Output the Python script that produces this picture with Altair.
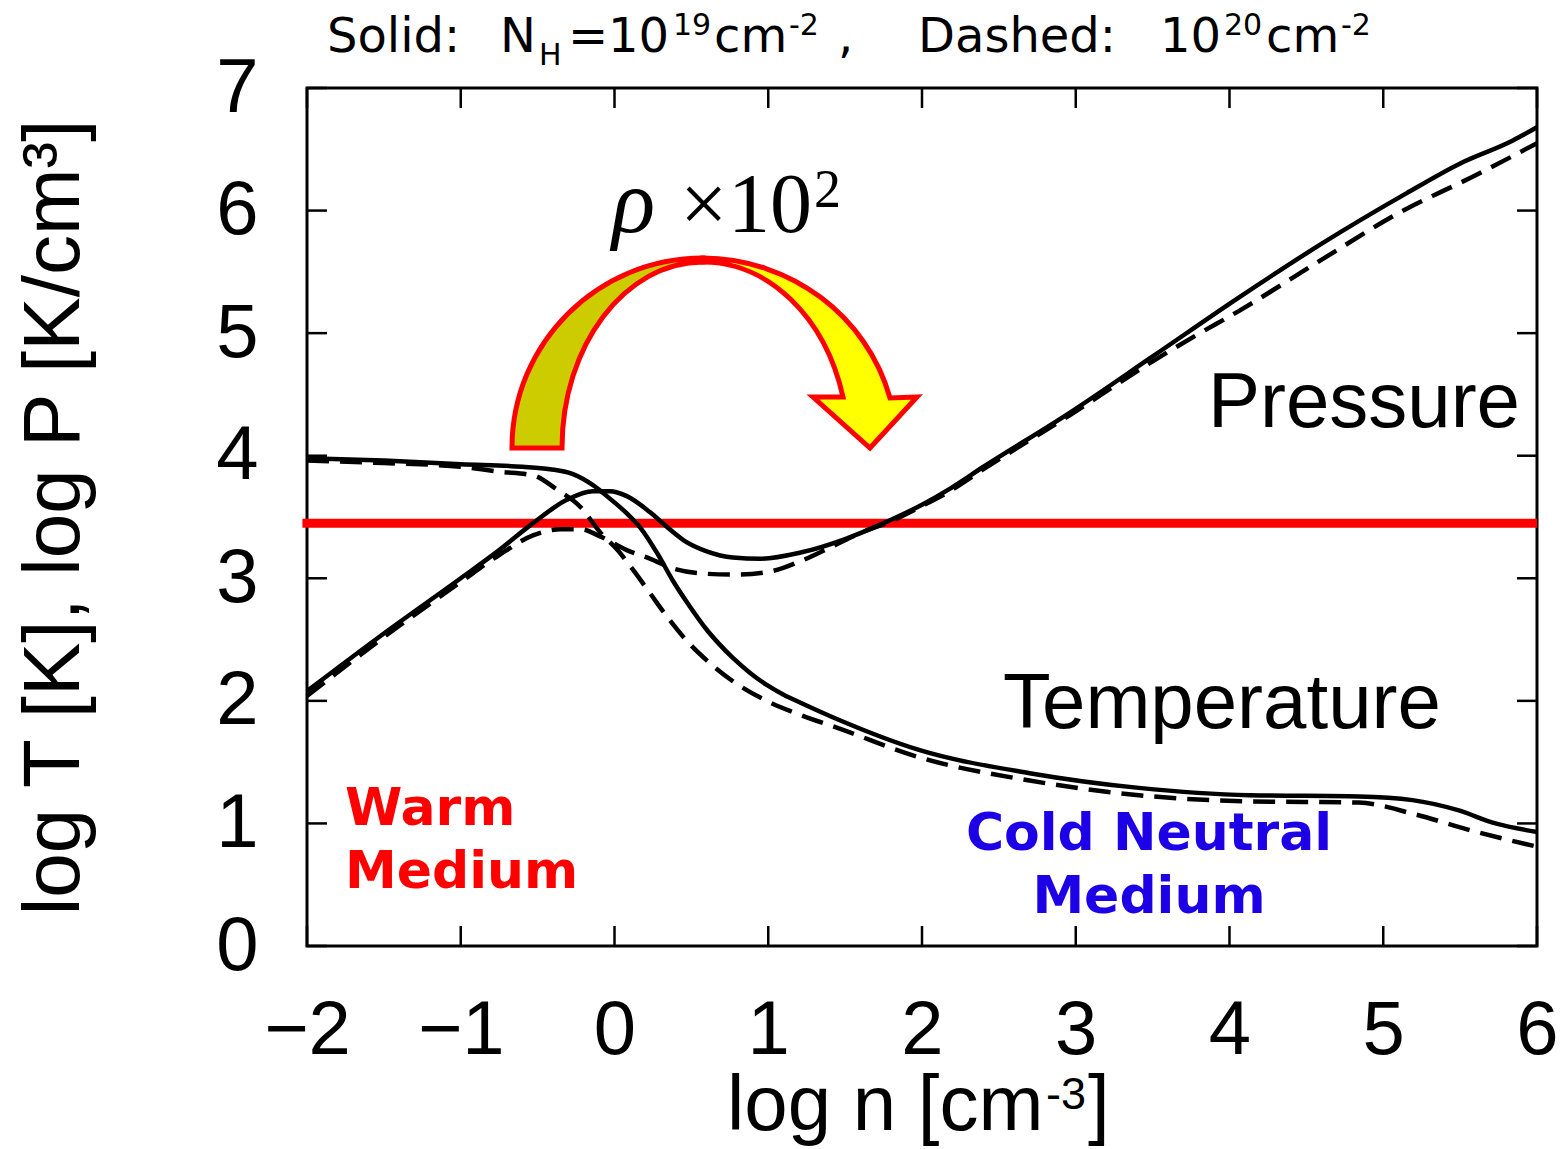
import altair as alt
import pandas as pd

# ---------------- data ----------------
# Pressure, N_H = 1e19 (solid)
p_solid_n = [-2.0, -1.5, -1.0, -0.75, -0.53, -0.31, -0.14, -0.03, 0.08, 0.23, 0.34, 0.45,
             0.60, 0.77, 0.95, 1.21, 1.50, 1.75, 2.00, 2.18, 2.40, 2.96, 3.50, 4.06, 4.60,
             5.15, 5.51, 5.84, 6.00]
p_solid_v = [2.08, 2.55, 3.00, 3.23, 3.45, 3.64, 3.71, 3.71, 3.67, 3.54, 3.42, 3.31,
             3.22, 3.17, 3.16, 3.21, 3.32, 3.45, 3.60, 3.73, 3.91, 4.35, 4.81, 5.29, 5.73,
             6.14, 6.39, 6.57, 6.68]
# Pressure, N_H = 1e20 (dashed)
p_dash_n = [-2.0, -1.5, -1.0, -0.75, -0.53, -0.35, -0.22, -0.09, 0.08, 0.23, 0.38, 0.56,
            0.77, 0.99, 1.21, 1.40, 1.64, 1.75, 2.00, 2.18, 2.40, 2.96, 3.50, 3.78, 4.06,
            4.60, 5.10, 5.62, 6.00]
p_dash_v = [2.04, 2.52, 2.97, 3.19, 3.35, 3.40, 3.40, 3.34, 3.23, 3.16, 3.08, 3.04,
            3.03, 3.05, 3.14, 3.25, 3.39, 3.44, 3.59, 3.71, 3.89, 4.33, 4.77, 4.98, 5.18,
            5.60, 5.98, 6.30, 6.55]
# Temperature, N_H = 1e19 (solid)
t_solid_n = [-2.0, -1.5, -1.0, -0.6, -0.42, -0.27, -0.14, -0.03, 0.08, 0.17, 0.28, 0.38,
             0.49, 0.60, 0.68, 0.77, 0.88, 0.99, 1.10, 1.21, 1.45, 1.98, 2.70, 3.41, 4.13,
             4.84, 5.19, 5.48, 5.73, 6.00]
t_solid_v = [3.98, 3.96, 3.93, 3.91, 3.89, 3.85, 3.76, 3.65, 3.53, 3.41, 3.20, 2.98,
             2.77, 2.58, 2.465, 2.35, 2.23, 2.13, 2.05, 1.985, 1.85, 1.60, 1.41, 1.29, 1.23,
             1.22, 1.19, 1.11, 1.00, 0.93]
# Temperature, N_H = 1e20 (dashed)
t_dash_n = [-2.0, -1.5, -1.0, -0.75, -0.53, -0.37, -0.22, -0.09, 0.02, 0.12, 0.23, 0.34,
            0.47, 0.60, 0.77, 0.99, 1.21, 1.45, 1.98, 2.70, 3.41, 4.13, 4.84, 5.19, 5.55,
            6.00]
t_dash_v = [3.96, 3.94, 3.91, 3.87, 3.84, 3.72, 3.58, 3.37, 3.23, 3.07, 2.88, 2.69,
            2.49, 2.33, 2.16, 2.00, 1.885, 1.78, 1.54, 1.35, 1.23, 1.18, 1.17, 1.08, 0.95,
            0.81]

red_level = [3.45]          # horizontal red line (log P)
red_span = [-2.03, 6.0]
x_ticks = [-2, -1, 0, 1, 2, 3, 4, 5, 6]
y_ticks = [0, 1, 2, 3, 4, 5, 6, 7]

# ---------------- layout ----------------
W, H = 1230, 858
OX, OY = 307, 88           # plot-area origin in the page


def series_df(n, v, name):
    return pd.DataFrame({"n": n, "v": v, "series": name, "i": range(len(n))})


solid_df = pd.concat([series_df(p_solid_n, p_solid_v, "P"),
                      series_df(t_solid_n, t_solid_v, "T")])
dash_df = pd.concat([series_df(p_dash_n, p_dash_v, "P"),
                     series_df(t_dash_n, t_dash_v, "T")])

XS = alt.Scale(domain=[-2, 6], nice=False, zero=False)
YS = alt.Scale(domain=[0, 7], nice=False, zero=False)

XA = alt.Axis(values=x_ticks, format="d", labelFont="Liberation Sans", labelFontSize=76,
              labelColor="black", labelPadding=47, ticks=False, tickSize=0, domain=False,
              grid=False, labelFlush=False, labelOverlap=False, title=None)
YA = alt.Axis(values=y_ticks, format="d", labelFont="Liberation Sans", labelFontSize=76,
              labelColor="black", labelPadding=49, ticks=False, tickSize=0, domain=False,
              grid=False, labelFlush=False, labelOverlap=False,
              title="log T [K], log P [K/cm³]", titleFont="Liberation Sans",
              titleFontSize=80, titleFontWeight="normal", titleColor="black",
              titleX=-229, titleY=429, titleAngle=270, titleAlign="center",
              titleBaseline="alphabetic")


def X(field="n"):
    return alt.X(f"{field}:Q", scale=XS, axis=XA)


def Y(field="v"):
    return alt.Y(f"{field}:Q", scale=YS, axis=YA)


one = pd.DataFrame({"k": [0]})


def txt(s, x, y, size, font="Liberation Sans", color="black", align="left",
        weight="normal", style="normal"):
    return alt.Chart(one).mark_text(
        text=s, align=align, baseline="alphabetic", fontSize=size, font=font,
        color=color, fontWeight=weight, fontStyle=style
    ).encode(x=alt.value(x - OX), y=alt.value(y - OY))


# curves
solid = alt.Chart(solid_df).mark_line(color="black", strokeWidth=4.5, interpolate="monotone").encode(
    x=X(), y=Y(), detail="series:N", order="i:Q")
dashed = alt.Chart(dash_df).mark_line(color="black", strokeWidth=4.5, interpolate="monotone",
                                      strokeDash=[22, 11]).encode(
    x=X(), y=Y(), detail="series:N", order="i:Q")

# red line
red_df = pd.DataFrame({"n": [red_span[0]], "n2": [red_span[1]], "v": red_level})
red = alt.Chart(red_df).mark_rule(color="#ff0000", strokeWidth=9).encode(
    x=X(), x2="n2:Q", y=Y())

# inward ticks on all four sides
xt_df = pd.DataFrame({"n": x_ticks})
yt_df = pd.DataFrame({"v": y_ticks})
TL = 20
tick_b = alt.Chart(xt_df).mark_rule(color="black", strokeWidth=2.5).encode(
    x=X(), y=alt.value(H), y2=alt.value(H - TL))
tick_t = alt.Chart(xt_df).mark_rule(color="black", strokeWidth=2.5).encode(
    x=X(), y=alt.value(0), y2=alt.value(TL))
tick_l = alt.Chart(yt_df).mark_rule(color="black", strokeWidth=2.5).encode(
    y=Y(), x=alt.value(0), x2=alt.value(TL))
tick_r = alt.Chart(yt_df).mark_rule(color="black", strokeWidth=2.5).encode(
    y=Y(), x=alt.value(W), x2=alt.value(W - TL))

# curved arrow (custom symbol paths, 1 unit = 200 px)
olive_path = ("M -0.955 0 A 0.955 0.95 0 0 1 0 -0.95 L 0 -0.93 "
              "A 0.705 0.93 0 0 0 -0.705 0 Z")
yellow_path = ("M 0 -0.95 A 0.975 0.95 0 0 1 0.935 -0.25 L 1.07 -0.255 L 0.835 0 "
               "L 0.55 -0.255 L 0.70 -0.255 A 0.725 0.93 0 0 0 0 -0.93 Z")
arrow_c = (703, 448)
arrow_l = alt.Chart(one).mark_point(shape=olive_path, size=160000, filled=True,
                                    fill="#cccc00", stroke="#ff0000", strokeWidth=5,
                                    opacity=1).encode(
    x=alt.value(arrow_c[0] - OX), y=alt.value(arrow_c[1] - OY))
arrow_r = alt.Chart(one).mark_point(shape=yellow_path, size=160000, filled=True,
                                    fill="#ffff00", stroke="#ff0000", strokeWidth=5,
                                    opacity=1).encode(
    x=alt.value(arrow_c[0] - OX), y=alt.value(arrow_c[1] - OY))

DJ = "DejaVu Sans"
texts = [
    # header
    txt("Solid:", 327, 52, 48, font=DJ),
    txt("N", 500, 52, 48, font=DJ),
    txt("H", 539, 65, 30, font=DJ),
    txt("=", 568, 52, 48, font=DJ),
    txt("10", 608, 52, 48, font=DJ),
    txt("19", 673, 35, 30, font=DJ),
    txt("cm", 714, 52, 48, font=DJ),
    txt("-2", 789, 35, 30, font=DJ),
    txt(",", 838, 52, 48, font=DJ),
    txt("Dashed:", 918, 52, 48, font=DJ),
    txt("10", 1160, 52, 48, font=DJ),
    txt("20", 1224, 35, 30, font=DJ),
    txt("cm", 1266, 52, 48, font=DJ),
    txt("-2", 1341, 35, 30, font=DJ),
    # x-axis title
    txt("log n [cm", 727, 1130, 78),
    txt("-3", 1046, 1109, 45),
    txt("]", 1088, 1130, 78),
    # rho x 10^2
    txt("ρ", 612, 232, 90, font="Liberation Serif", style="italic"),
    txt("×", 680, 232, 84, font="Liberation Serif"),
    txt("10", 728, 232, 84, font="Liberation Serif"),
    txt("2", 814, 207, 54, font="Liberation Serif"),
    # curve labels
    txt("Pressure", 1520, 427, 78, align="right"),
    txt("Temperature", 1003, 728, 78),
    # phases
    txt("Warm", 345, 825, 52, font=DJ, color="#ff0000", weight="bold"),
    txt("Medium", 345, 888, 52, font=DJ, color="#ff0000", weight="bold"),
    txt("Cold Neutral", 1149, 850, 52, font=DJ, color="#1e00e6",
        weight="bold", align="center"),
    txt("Medium", 1149, 913, 52, font=DJ, color="#1e00e6",
        weight="bold", align="center"),
]

chart = alt.layer(
    red, tick_b, tick_t, tick_l, tick_r, dashed, solid, arrow_l, arrow_r, *texts
).properties(
    width=W, height=H, autosize="none",
    padding={"left": OX, "top": OY, "right": 1562 - OX - W, "bottom": 1149 - OY - H},
    background="white",
).configure_view(stroke="black", strokeWidth=3)

chart.save("out.html", embed_options={"renderer": "svg", "actions": False})
